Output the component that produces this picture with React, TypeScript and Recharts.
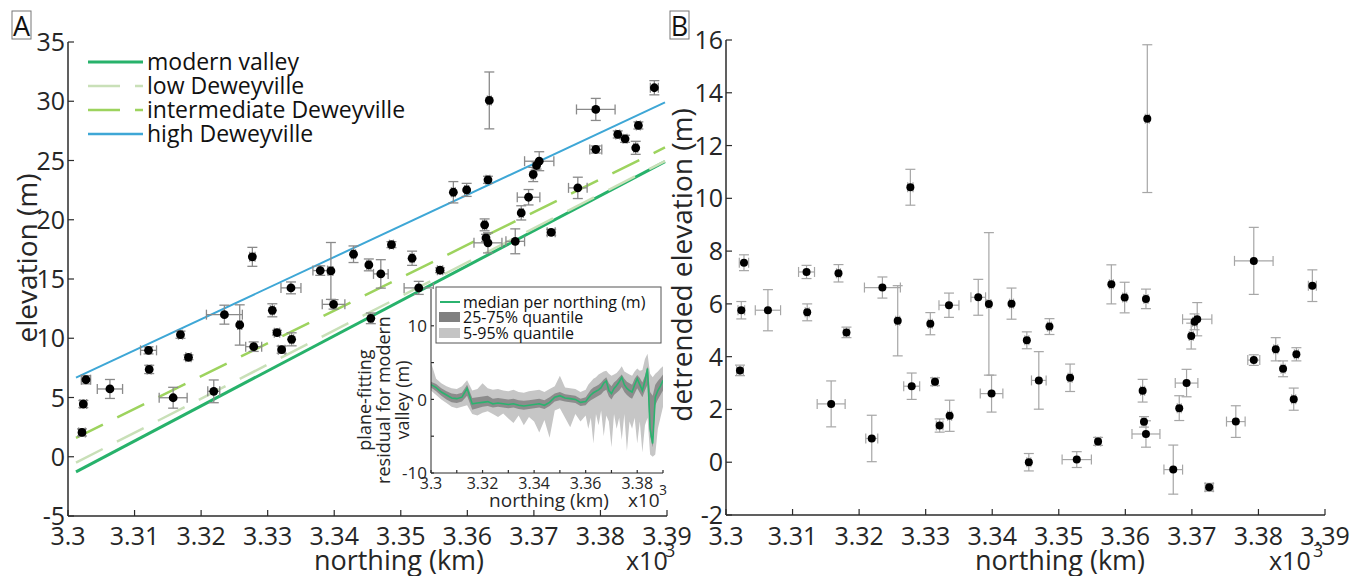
import React from "react";
import { ComposedChart, Scatter, Line, Area, XAxis, YAxis, ErrorBar } from "recharts";

const FONT = '"Open Sans", "Noto Sans", sans-serif';

const northing = [3.3023, 3.3021, 3.3027, 3.3063, 3.3121, 3.3122, 3.3169, 3.3158, 3.3181, 3.3219, 3.3235, 3.3258, 3.3277, 3.3279, 3.3307, 3.3314, 3.3321, 3.3336, 3.3335, 3.3379, 3.3395, 3.3399, 3.3429, 3.3452, 3.3455, 3.347, 3.3486, 3.3517, 3.3527, 3.3559, 3.3579, 3.3599, 3.3631, 3.3626, 3.3628, 3.3631, 3.3633, 3.3672, 3.3681, 3.3692, 3.3699, 3.3704, 3.3708, 3.3726, 3.3766, 3.3793, 3.3793, 3.3826, 3.3837, 3.3857, 3.3853, 3.3881];
const northingErr = [0.0005, 0.0005, 0.0007, 0.0019, 0.0012, 0.0003, 0.0003, 0.0021, 0.0004, 0.0009, 0.0027, 0.0003, 0.0004, 0.0012, 0.0003, 0.0004, 0.0005, 0.0003, 0.0015, 0.0011, 0.0003, 0.0017, 0.0003, 0.0003, 0.0003, 0.0011, 0.0003, 0.0003, 0.0022, 0.0004, 0.0003, 0.0003, 0.0003, 0.0003, 0.0003, 0.0021, 0.0003, 0.0014, 0.0003, 0.0017, 0.0003, 0.0003, 0.0022, 0.0006, 0.0014, 0.0029, 0.0009, 0.0003, 0.0003, 0.0003, 0.0003, 0.0006];
const elevation = [4.45, 2.05, 6.5, 5.72, 8.98, 7.37, 10.3, 4.98, 8.39, 5.52, 11.99, 11.12, 16.87, 9.29, 12.36, 10.47, 9.04, 9.91, 14.25, 15.71, 15.68, 12.86, 17.09, 16.19, 11.68, 15.43, 17.9, 16.75, 14.25, 15.74, 22.32, 22.52, 23.37, 19.57, 18.47, 18.05, 30.07, 18.18, 20.58, 21.9, 23.82, 24.58, 24.94, 18.94, 22.69, 29.31, 25.93, 27.2, 26.83, 27.96, 26.07, 31.14];
const elevationErr = [0.3, 0.3, 0.35, 0.8, 0.3, 0.35, 0.3, 0.88, 0.2, 0.96, 0.8, 1.7, 0.8, 0.4, 0.55, 0.2, 0.3, 0.55, 0.5, 0.4, 2.4, 0.4, 0.7, 0.5, 0.45, 1.2, 0.25, 0.6, 0.55, 0.2, 0.9, 0.55, 0.3, 0.5, 0.3, 0.85, 2.4, 1.05, 0.6, 0.65, 0.6, 0.3, 0.8, 0.25, 0.9, 0.93, 0.3, 0.3, 0.3, 0.3, 0.55, 0.6];
const detrended = [5.76, 3.48, 7.56, 5.76, 7.21, 5.68, 7.16, 2.21, 4.92, 0.9, 6.62, 5.36, 10.42, 2.88, 5.25, 3.05, 1.39, 1.76, 5.95, 6.25, 6.0, 2.6, 6.01, 4.62, 0.0, 3.1, 5.14, 3.2, 0.1, 0.79, 6.74, 6.24, 6.19, 2.71, 1.53, 1.07, 13.02, -0.28, 2.05, 3.0, 4.78, 5.32, 5.42, -0.95, 1.54, 7.63, 3.87, 4.28, 3.54, 4.09, 2.39, 6.69];
const detrendedErr = [0.33, 0.2, 0.3, 0.78, 0.25, 0.32, 0.33, 0.87, 0.2, 0.88, 0.4, 1.33, 0.68, 0.5, 0.42, 0.15, 0.25, 0.59, 0.46, 0.68, 2.7, 0.7, 0.59, 0.32, 0.33, 1.09, 0.3, 0.52, 0.3, 0.15, 0.74, 0.58, 0.37, 0.43, 0.2, 0.5, 2.8, 0.93, 0.47, 0.52, 0.49, 0.3, 0.63, 0.15, 0.6, 1.27, 0.2, 0.44, 0.3, 0.25, 0.42, 0.6];

// fitted surfaces in panel A (end points)
const surfaceNames = ["modern valley", "low Deweyville", "intermediate Deweyville", "high Deweyville"];
const surfaceColors = ["#27b26b", "#c9e0b8", "#9dd35e", "#3ea7d6"];
const surfaceNorthing = [3.3012, 3.3897];
const surfaceStart = [-1.27, -0.5, 1.6, 6.67];
const surfaceEnd = [24.9, 24.95, 26.1, 29.9];

const northingTicks = [3.3, 3.31, 3.32, 3.33, 3.34, 3.35, 3.36, 3.37, 3.38, 3.39];
const elevationTicks = [-5, 0, 5, 10, 15, 20, 25, 30, 35];
const detrendedTicks = [-2, 0, 2, 4, 6, 8, 10, 12, 14, 16];

// inset: plane-fitting residual for the modern valley
const insetNorthing = [3.3, 3.302, 3.304, 3.306, 3.308, 3.31, 3.312, 3.314, 3.316, 3.318, 3.32, 3.322, 3.324, 3.326, 3.328, 3.33, 3.332, 3.334, 3.336, 3.338, 3.34, 3.342, 3.344, 3.346, 3.348, 3.35, 3.352, 3.354, 3.356, 3.358, 3.36, 3.361, 3.362, 3.363, 3.364, 3.365, 3.366, 3.367, 3.368, 3.369, 3.37, 3.371, 3.372, 3.373, 3.374, 3.375, 3.376, 3.377, 3.378, 3.379, 3.38, 3.381, 3.382, 3.383, 3.384, 3.385, 3.386, 3.387, 3.388, 3.389, 3.39];
const insetMedian = [2.0, 1.6, 1.0, 0.6, 0.2, 0.1, 0.3, 1.5, -0.6, -0.5, -0.4, -0.3, -0.6, -0.5, -0.6, -0.7, -0.6, -0.8, -0.9, -0.8, -0.7, -0.6, -0.8, -0.4, 0.3, 0.5, 0.2, 0.1, 0.0, -0.4, -0.3, 0.2, 0.6, 0.9, 1.1, 1.3, 1.6, 2.2, 2.5, 1.2, 0.8, 1.5, 1.9, 2.4, 3.0, 2.0, 1.5, 1.2, 1.0, 2.0, 2.8, 2.0, 1.2, 2.5, 4.2, -4.0, -6.0, 0.3, 1.2, 1.8, 2.6];
const insetQ25 = [1.6, 1.1, 0.5, 0.0, -0.4, -0.5, -0.3, 0.5, -1.4, -1.2, -1.0, -0.9, -1.1, -1.0, -1.1, -1.2, -1.1, -1.3, -1.4, -1.3, -1.2, -1.1, -1.3, -0.9, -0.3, -0.1, -0.3, -0.4, -0.5, -0.9, -0.8, -0.4, -0.1, 0.1, 0.3, 0.5, 0.7, 1.1, 1.3, 0.4, 0.0, 0.6, 0.9, 1.2, 1.7, 1.0, 0.6, 0.3, 0.1, 0.8, 1.5, 0.9, 0.3, 1.2, 2.0, -5.0, -6.5, -0.8, 0.0, 0.6, 1.2];
const insetQ75 = [2.4, 2.1, 1.5, 1.1, 0.8, 0.7, 0.9, 2.0, 0.2, 0.3, 0.4, 0.5, 0.1, 0.2, 0.1, 0.0, 0.1, -0.1, -0.2, -0.1, 0.0, 0.1, -0.1, 0.3, 0.8, 1.0, 0.7, 0.6, 0.5, 0.1, 0.3, 0.8, 1.3, 1.6, 1.8, 2.0, 2.3, 2.7, 3.0, 2.2, 1.8, 2.3, 2.6, 3.0, 3.4, 2.8, 2.4, 2.2, 2.0, 2.8, 3.3, 2.9, 2.3, 3.2, 4.5, 1.0, 0.5, 2.0, 2.5, 2.9, 3.4];
const insetQ05 = [1.2, 0.6, 0.0, -0.5, -1.0, -1.2, -1.0, -0.8, -2.0, -2.2, -1.8, -1.6, -2.0, -2.4, -1.9, -2.6, -3.2, -2.2, -3.5, -2.4, -3.0, -4.5, -2.8, -5.2, -1.5, -1.2, -2.5, -3.8, -2.0, -3.0, -2.2, -4.0, -2.5, -6.0, -2.0, -3.5, -1.5, -5.0, -2.2, -3.0, -6.5, -2.0, -4.0, -2.5, -5.5, -2.0, -7.0, -3.0, -4.0, -2.5, -6.0, -3.0, -7.2, -3.5, -2.5, -7.5, -7.8, -7.5, -4.0, -2.5, -1.0];
const insetQ95 = [5.0, 2.8, 2.2, 1.8, 1.5, 1.4, 1.8, 2.6, 1.2, 1.4, 2.2, 1.5, 1.3, 1.4, 1.2, 1.1, 1.3, 1.0, 0.9, 1.1, 1.2, 1.3, 1.0, 1.4, 1.8, 3.2, 1.6, 1.5, 1.4, 1.0, 1.3, 2.0, 2.4, 2.8, 3.0, 3.4, 3.6, 3.8, 3.9, 3.5, 3.2, 3.4, 3.6, 4.0, 4.5, 3.8, 3.6, 3.4, 3.2, 3.8, 4.2, 3.9, 4.0, 5.5, 6.2, 3.5, 3.0, 3.5, 3.8, 4.2, 4.5];
const insetNorthingLabels = [3.3, 3.32, 3.34, 3.36, 3.38];
const insetResidualTicks = [-10, -5, 0, 5, 10];
const insetResidualLabels = [-10, 0, 10];

const pointsA = northing.map((x, i) => ({ x, y: elevation[i], ex: northingErr[i], ey: elevationErr[i] }));
const pointsB = northing.map((x, i) => ({ x, y: detrended[i], ex: northingErr[i], ey: detrendedErr[i] }));
const surfaces = surfaceNames.map((name, i) => ({
  name,
  color: surfaceColors[i],
  data: [
    { x: surfaceNorthing[0], y: surfaceStart[i] },
    { x: surfaceNorthing[1], y: surfaceEnd[i] },
  ],
}));
const insetRows = insetNorthing.map((x, i) => ({
  x,
  median: insetMedian[i],
  q50: [insetQ25[i], insetQ75[i]],
  q90: [insetQ05[i], insetQ95[i]],
}));

const AXIS = "#2b2b2b";
const shown = (list: number[] | undefined, v: number) => !list || list.some((t) => Math.abs(t - v) < 1e-9);

// ticks point inwards, like the original figure
const bottomTick = (size: number, len: number, dy: number, labels?: number[]) => (p: any) => (
  <g>
    <line x1={p.x} y1={p.y} x2={p.x} y2={p.y - len} stroke={AXIS} strokeWidth={1.2} />
    {shown(labels, p.payload.value) && (
      <text x={p.x} y={p.y + dy} textAnchor="middle" fontSize={size} fontFamily={FONT} fill="#262626">
        {String(p.payload.value)}
      </text>
    )}
  </g>
);

const leftTick = (size: number, len: number, gap: number, labels?: number[]) => (p: any) => (
  <g>
    <line x1={p.x} y1={p.y} x2={p.x + len} y2={p.y} stroke={AXIS} strokeWidth={1.2} />
    {shown(labels, p.payload.value) && (
      <text x={p.x - gap} y={p.y + size * 0.36} textAnchor="end" fontSize={size} fontFamily={FONT} fill="#262626">
        {String(p.payload.value)}
      </text>
    )}
  </g>
);

const dotA = (p: any) => <circle cx={p.cx} cy={p.cy} r={4.4} fill="#000" />;
const dotB = (p: any) => <circle cx={p.cx} cy={p.cy} r={4} fill="#000" />;

export default function App() {
  return (
    <div style={{ position: "absolute", left: 0, top: 0, width: 1351, height: 576, background: "#fff", overflow: "hidden", fontFamily: FONT }}>
      {/* panel A */}
      <div style={{ position: "absolute", left: 0, top: 0 }}>
        <ComposedChart width={700} height={576} margin={{ top: 42, right: 33, bottom: 59, left: 67 }}>
          <XAxis type="number" dataKey="x" domain={[3.3, 3.39]} ticks={northingTicks} allowDataOverflow interval={0}
            height={1} tickSize={0} tickMargin={0} tickLine={false} axisLine={{ stroke: AXIS, strokeWidth: 1.5 }}
            tick={bottomTick(25, 6, 29)} />
          <YAxis type="number" domain={[-5, 35]} ticks={elevationTicks} allowDataOverflow interval={0}
            width={1} tickSize={0} tickMargin={0} tickLine={false} axisLine={{ stroke: AXIS, strokeWidth: 1.5 }}
            tick={leftTick(25, 6, 3)} />
          {surfaces.map((s, i) => (
            <Line key={s.name} data={s.data} dataKey="y" type="linear" stroke={s.color}
              strokeWidth={i === 0 ? 3 : i === 3 ? 2 : 2.5}
              strokeDasharray={i === 1 || i === 2 ? "30 16" : undefined}
              dot={false} activeDot={false} isAnimationActive={false} />
          ))}
          <Scatter data={pointsA} dataKey="y" shape={dotA} isAnimationActive={false}>
            <ErrorBar dataKey="ex" direction="x" width={5} stroke="#8a8a8a" strokeWidth={1.3} />
            <ErrorBar dataKey="ey" direction="y" width={5} stroke="#8a8a8a" strokeWidth={1.3} />
          </Scatter>
        </ComposedChart>
      </div>

      {/* inset plot background */}
      <div style={{ position: "absolute", left: 431, top: 289, width: 232, height: 184, background: "#fff" }} />

      {/* inset */}
      <div style={{ position: "absolute", left: 340, top: 270 }}>
        <ComposedChart width={340} height={245} data={insetRows} margin={{ top: 19, right: 17, bottom: 41, left: 90 }}>
          <XAxis type="number" dataKey="x" domain={[3.3, 3.39]} ticks={northingTicks} allowDataOverflow interval={0}
            height={1} tickSize={0} tickMargin={0} tickLine={false} axisLine={{ stroke: AXIS, strokeWidth: 1 }}
            tick={bottomTick(16, 3, 16, insetNorthingLabels)} />
          <YAxis type="number" domain={[-10, 15]} ticks={insetResidualTicks} allowDataOverflow interval={0}
            width={1} tickSize={0} tickMargin={0} tickLine={false} axisLine={{ stroke: AXIS, strokeWidth: 1 }}
            tick={leftTick(17, 3, 4, insetResidualLabels)} />
          <Area type="linear" dataKey="q90" stroke="none" fill="#c6c6c6" fillOpacity={1} isAnimationActive={false} activeDot={false} />
          <Area type="linear" dataKey="q50" stroke="none" fill="#8c8c8c" fillOpacity={1} isAnimationActive={false} activeDot={false} />
          <Line type="linear" dataKey="median" stroke="#2bb36f" strokeWidth={1.6} dot={false} activeDot={false} isAnimationActive={false} />
        </ComposedChart>
      </div>

      {/* panel B */}
      <div style={{ position: "absolute", left: 660, top: 0 }}>
        <ComposedChart width={691} height={576} margin={{ top: 40, right: 26, bottom: 60, left: 65 }}>
          <XAxis type="number" dataKey="x" domain={[3.3, 3.39]} ticks={northingTicks} allowDataOverflow interval={0}
            height={1} tickSize={0} tickMargin={0} tickLine={false} axisLine={{ stroke: AXIS, strokeWidth: 1.5 }}
            tick={bottomTick(25, 6, 30)} />
          <YAxis type="number" domain={[-2, 16]} ticks={detrendedTicks} allowDataOverflow interval={0}
            width={1} tickSize={0} tickMargin={0} tickLine={false} axisLine={{ stroke: AXIS, strokeWidth: 1.5 }}
            tick={leftTick(25, 6, 3)} />
          <Scatter data={pointsB} dataKey="y" shape={dotB} isAnimationActive={false}>
            <ErrorBar dataKey="ex" direction="x" width={5} stroke="#a6a6a6" strokeWidth={1.2} />
            <ErrorBar dataKey="ey" direction="y" width={5} stroke="#a6a6a6" strokeWidth={1.2} />
          </Scatter>
        </ComposedChart>
      </div>

      {/* titles, labels and legends */}
      <svg width={1351} height={576} style={{ position: "absolute", left: 0, top: 0, pointerEvents: "none" }} fontFamily={FONT}>
        <rect x={12} y={11} width={19} height={28} fill="#fff" stroke="#777" strokeWidth={1} />
        <text x={21.5} y={36} textAnchor="middle" fontSize={27} fill="#111">A</text>
        <rect x={670} y={11} width={19} height={28} fill="#fff" stroke="#777" strokeWidth={1} />
        <text x={679.5} y={36} textAnchor="middle" fontSize={27} fill="#111">B</text>

        <text transform="translate(37,258) rotate(-90)" textAnchor="middle" fontSize={28} fill="#262626">elevation (m)</text>
        <text x={399} y={570} textAnchor="middle" fontSize={27} fill="#262626">northing (km)</text>
        <text x={626} y={570} fontSize={25} fill="#262626">x10</text>
        <text x={665} y={557} fontSize={18} fill="#262626">3</text>

        <text transform="translate(692,265) rotate(-90)" textAnchor="middle" fontSize={28} fill="#262626">detrended elevation (m)</text>
        <text x={1060} y={570} textAnchor="middle" fontSize={27} fill="#262626">northing (km)</text>
        <text x={1269} y={570} fontSize={25} fill="#262626">x10</text>
        <text x={1313} y={557} fontSize={18} fill="#262626">3</text>

        {surfaces.map((s, i) => {
          const y = 62 + i * 24;
          return (
            <g key={s.name}>
              <line x1={88} x2={143} y1={y} y2={y} stroke={s.color} strokeWidth={i === 0 ? 3 : 2.5}
                strokeDasharray={i === 1 || i === 2 ? "32 15" : undefined} />
              <text x={147} y={y + 8} fontSize={23} fill="#111">{s.name}</text>
            </g>
          );
        })}

        {/* inset labels */}
        <text transform="translate(371,400) rotate(-90)" textAnchor="middle" fontSize={18} fill="#262626">plane-fitting</text>
        <text transform="translate(390,400) rotate(-90)" textAnchor="middle" fontSize={18} fill="#262626">residual for modern</text>
        <text transform="translate(409,400) rotate(-90)" textAnchor="middle" fontSize={18} fill="#262626">valley (m)</text>
        <text x={549} y={507} textAnchor="middle" fontSize={19} fill="#262626">northing (km)</text>
        <text x={628} y={507} fontSize={19} fill="#262626">x10</text>
        <text x={659} y={495} fontSize={14} fill="#262626">3</text>

        <rect x={436} y={287} width={225} height={56} fill="#fff" stroke="#555" strokeWidth={1} />
        <line x1={440} x2={460} y1={302} y2={302} stroke="#2bb36f" strokeWidth={2} />
        <text x={463} y={308} fontSize={16} fill="#111">median per northing (m)</text>
        <rect x={439} y={312} width={21} height={10} fill="#808080" />
        <text x={463} y={323} fontSize={16} fill="#111">25-75% quantile</text>
        <rect x={439} y={328} width={21} height={10} fill="#c4c4c4" />
        <text x={463} y={339} fontSize={16} fill="#111">5-95% quantile</text>
      </svg>
    </div>
  );
}
